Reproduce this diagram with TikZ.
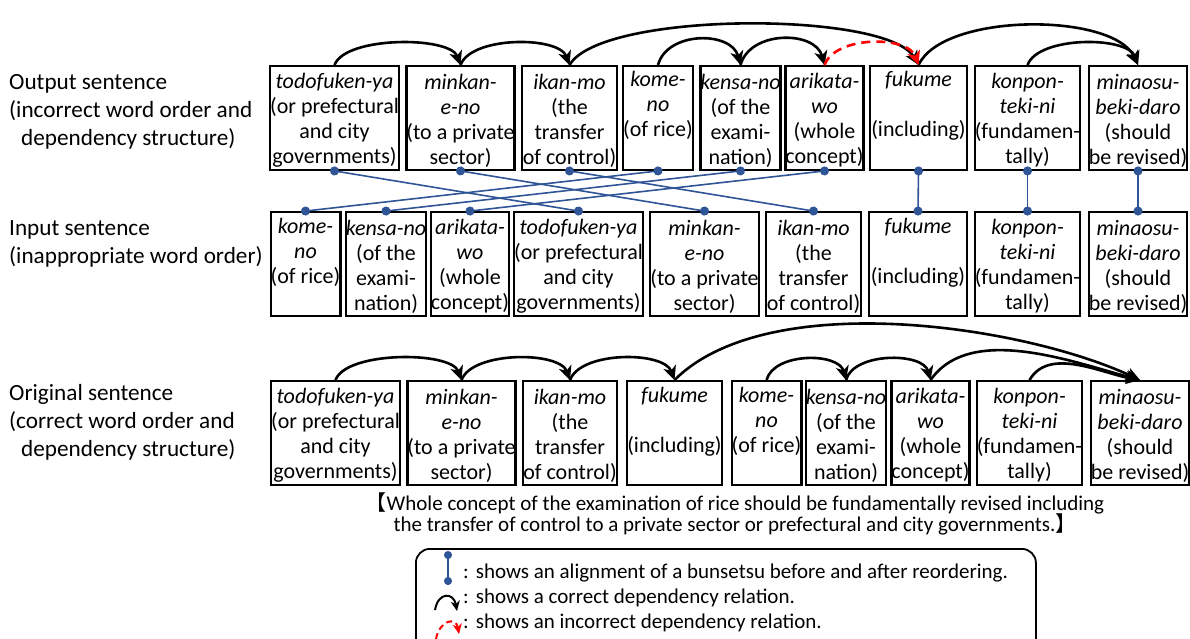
\documentclass[tikz,border=0pt]{standalone}
\usepackage{fontspec}
\setmainfont{Carlito}
\newfontfamily\cjk{Noto Sans CJK JP}
\usetikzlibrary{arrows.meta}
\definecolor{alignblue}{RGB}{47,85,151}

% bunsetsu texts
\newcommand{\topgap}{\rule{0pt}{20.5pt}}
\newcommand{\txtTodo}{\topgap\textit{todofuken-ya}\\(or prefectural\\and city\\governments)}
\newcommand{\txtMinkan}{\topgap\textit{minkan-}\\\textit{e-no}\\(to a private\\sector)}
\newcommand{\txtIkan}{\topgap\textit{ikan-mo}\\(the\\transfer\\of control)}
\newcommand{\txtKome}{\topgap\textit{kome-}\\\textit{no}\\(of rice)\\\strut}
\newcommand{\txtKensa}{\topgap\textit{kensa-no}\\(of the\\exami-\\nation)}
\newcommand{\txtArikata}{\topgap\textit{arikata-}\\\textit{wo}\\(whole\\concept)}
\newcommand{\txtFukume}{\topgap\textit{fukume}\\\strut\\(including)\\\strut}
\newcommand{\txtKonpon}{\topgap\textit{konpon-}\\\textit{teki-ni}\\(fundamen-\\tally)}
\newcommand{\txtMinaosu}{\topgap\textit{minaosu-}\\\textit{beki-daro}\\(should\\be revised)}

\begin{document}
\begin{tikzpicture}[x=1pt,y=-1pt,
  bunbox/.style={draw,line width=2.4pt,align=center,inner sep=0pt,minimum height=103.5,
    font=\fontsize{22}{25}\selectfont},
  rowlabel/.style={align=left,inner sep=0pt,anchor=north west,font=\fontsize{23.2}{28.3}\selectfont},
  dep/.style={line width=2.6pt,-{Stealth[length=14pt,width=13pt,inset=4pt]}},
  wrongdep/.style={dep,red,dash pattern=on 9pt off 6pt},
  alignln/.style={alignblue,line width=1.6pt,{Circle[length=9pt]}-{Circle[length=9pt]},shorten <=-4.5pt,shorten >=-4.5pt},
  legendtext/.style={anchor=west,inner sep=0pt,font=\fontsize{21}{25}\selectfont}]
\useasboundingbox (0,0) rectangle (1190,639);

% row labels
\node[rowlabel] (outlbl) at (9,74) {Output sentence\\(incorrect word order and\\\hspace*{12pt}dependency structure)};
\node[rowlabel] (inlbl) at (9,220) {Input sentence\\(inappropriate word order)};
\node[rowlabel] (orglbl) at (9,384) {Original sentence\\(correct word order and\\\hspace*{12pt}dependency structure)};

% output sentence
\node[bunbox,minimum width=126.5] (o1) at (334.5,118) {\txtTodo};
\node[bunbox,minimum width=106.5] (o2) at (460.5,118) {\txtMinkan};
\node[bunbox,minimum width=94.5] (o3) at (569.5,118) {\txtIkan};
\node[bunbox,minimum width=67.5] (o4) at (658,118) {\txtKome};
\node[bunbox,minimum width=78.5] (o5) at (740.5,118) {\txtKensa};
\node[bunbox,minimum width=74.5] (o6) at (824.5,118) {\txtArikata};
\node[bunbox,minimum width=96.5] (o7) at (918.5,118) {\txtFukume};
\node[bunbox,minimum width=104.5] (o8) at (1027.5,118) {\txtKonpon};
\node[bunbox,minimum width=97.5] (o9) at (1138,118) {\txtMinaosu};

% input sentence
\node[bunbox,minimum width=66.5] (i1) at (305.5,264) {\txtKome};
\node[bunbox,minimum width=77.5] (i2) at (386,264) {\txtKensa};
\node[bunbox,minimum width=73.5] (i3) at (470,264) {\txtArikata};
\node[bunbox,minimum width=126.5] (i4) at (578.5,264) {\txtTodo};
\node[bunbox,minimum width=108.5] (i5) at (704.5,264) {\txtMinkan};
\node[bunbox,minimum width=94.5] (i6) at (813.5,264) {\txtIkan};
\node[bunbox,minimum width=97.5] (i7) at (918,264) {\txtFukume};
\node[bunbox,minimum width=104.5] (i8) at (1027.5,264) {\txtKonpon};
\node[bunbox,minimum width=97.5] (i9) at (1138,264) {\txtMinaosu};

% original sentence
\node[bunbox,minimum width=126.5] (c1) at (335.5,433) {\txtTodo};
\node[bunbox,minimum width=106.5] (c2) at (461.5,433) {\txtMinkan};
\node[bunbox,minimum width=93.5] (c3) at (570,433) {\txtIkan};
\node[bunbox,minimum width=94.5] (c4) at (674.5,433) {\txtFukume};
\node[bunbox,minimum width=66.5] (c5) at (766.5,433) {\txtKome};
\node[bunbox,minimum width=73.5] (c6) at (846,433) {\txtKensa};
\node[bunbox,minimum width=74.5] (c7) at (930.5,433) {\txtArikata};
\node[bunbox,minimum width=100.5] (c8) at (1029.5,433) {\txtKonpon};
\node[bunbox,minimum width=93.5] (c9) at (1140,433) {\txtMinaosu};

% alignments
\foreach \a/\b in {1/4,2/5,3/6,4/1,5/2,6/3,7/7,8/8,9/9}
  \draw[alignln] (o\a.south) -- (i\b.north);

% dependencies of the output sentence
\draw[dep] (o1.north) to[out=70,in=110,looseness=0.63] (o2.north);
\draw[dep] (o2.north) to[out=70,in=110,looseness=0.73] (o3.north);
\draw[dep] (o3.north) to[out=60,in=120,looseness=0.46] (o7.north);
\draw[dep] (o4.north) to[out=75,in=105,looseness=1.1] (o5.north);
\draw[dep] (o5.north) to[out=75,in=105,looseness=1.1] (o6.north);
\draw[dep] (o7.north) to[out=65,in=115,looseness=0.68] (o9.north);
\draw[dep] (o8.north) to[out=70,in=110,looseness=0.72] (o9.north);
\draw[wrongdep] (o6.north) to[out=70,in=110,looseness=0.86] (o7.north);

% dependencies of the original sentence
\draw[dep] (c1.north) to[out=70,in=110,looseness=0.63] (c2.north);
\draw[dep] (c2.north) to[out=70,in=110,looseness=0.73] (c3.north);
\draw[dep] (c3.north) to[out=70,in=110,looseness=0.76] (c4.north);
\draw[dep] (c4.north) to[out=45,in=155,looseness=0.72] (c9.north);
\draw[dep] (c5.north) to[out=75,in=105,looseness=0.93] (c6.north);
\draw[dep] (c6.north) to[out=75,in=105,looseness=0.88] (c7.north);
\draw[dep] (c7.north) to[out=55,in=165,looseness=0.85] (c9.north);
\draw[dep] (c8.north) to[out=60,in=170,looseness=0.9] (c9.north);

% translation
\node[align=center,inner sep=0pt,font=\fontsize{21}{21.5}\selectfont] (gloss) at (735,514)
  {{\cjk 【}Whole concept of the examination of rice should be fundamentally revised including\\
   the transfer of control to a private sector or prefectural and city governments.{\cjk 】}};

% legend
\node[draw,line width=1.8pt,rounded corners=14pt,minimum width=620,minimum height=110,anchor=north west] (legend) at (415,548) {};
\coordinate (la1) at (448,555);
\coordinate (la2) at (448,581);
\draw[alignln,line width=1.4pt,{Circle[length=8pt]}-{Circle[length=8pt]},shorten <=-4pt,shorten >=-4pt] (la1) -- (la2);
\coordinate (lb1) at (435,610);
\coordinate (lb2) at (457,611);
\draw[dep,line width=2pt,-{Stealth[length=10pt,width=9pt,inset=3pt]}] (lb1) to[out=80,in=100,looseness=2.2] (lb2);
\coordinate (lc1) at (436,639);
\coordinate (lc2) at (459,634);
\draw[wrongdep,line width=2pt,dash pattern=on 6pt off 4pt,-{Stealth[length=10pt,width=9pt,inset=3pt]}] (lc1) to[out=80,in=100,looseness=2] (lc2);
\node[legendtext] (lt1) at (463,573) {:\hspace{7pt}shows an alignment of a bunsetsu before and after reordering.};
\node[legendtext] (lt2) at (463,598) {:\hspace{7pt}shows a correct dependency relation.};
\node[legendtext] (lt3) at (463,623) {:\hspace{7pt}shows an incorrect dependency relation.};
\end{tikzpicture}
\end{document}
